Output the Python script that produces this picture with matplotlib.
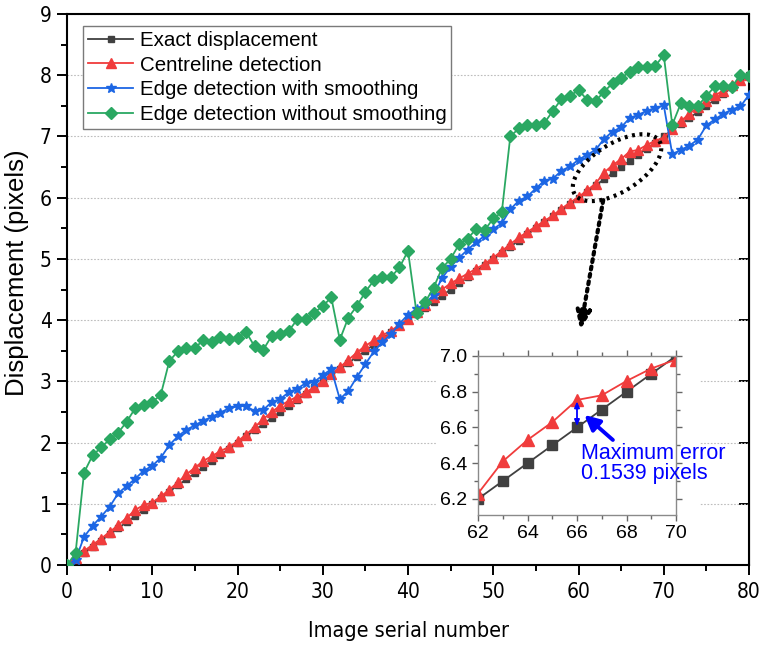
import numpy as np
import matplotlib
matplotlib.use("Agg")
import matplotlib.pyplot as plt
from matplotlib import font_manager
from matplotlib.font_manager import FontProperties
from matplotlib.patches import Rectangle
from matplotlib.ticker import MultipleLocator

# ---------------- data ----------------
image_no = list(range(0, 81))

exact = [0.0, 0.1, 0.2, 0.3, 0.4, 0.5, 0.6, 0.7, 0.8, 0.9,
         1.0, 1.1, 1.2, 1.3, 1.4, 1.5, 1.6, 1.7, 1.8, 1.9,
         2.0, 2.1, 2.2, 2.3, 2.4, 2.5, 2.6, 2.7, 2.8, 2.9,
         3.0, 3.1, 3.2, 3.3, 3.4, 3.5, 3.6, 3.7, 3.8, 3.9,
         4.0, 4.1, 4.2, 4.3, 4.4, 4.5, 4.6, 4.7, 4.8, 4.9,
         5.0, 5.1, 5.2, 5.3, 5.4, 5.5, 5.6, 5.7, 5.8, 5.9,
         6.0, 6.1, 6.2, 6.3, 6.4, 6.5, 6.6, 6.7, 6.8, 6.9,
         7.0, 7.1, 7.2, 7.3, 7.4, 7.5, 7.6, 7.7, 7.8, 7.9, 8.0]

centreline = [0.00, 0.12, 0.23, 0.33, 0.43, 0.54, 0.65, 0.77, 0.90, 0.98,
              1.02, 1.12, 1.23, 1.35, 1.48, 1.59, 1.70, 1.78, 1.86, 1.93,
              2.02, 2.13, 2.25, 2.38, 2.50, 2.60, 2.68, 2.75, 2.82, 2.90,
              3.00, 3.12, 3.23, 3.35, 3.47, 3.58, 3.67, 3.75, 3.83, 3.92,
              4.02, 4.13, 4.25, 4.37, 4.50, 4.60, 4.68, 4.76, 4.84, 4.92,
              5.02, 5.13, 5.24, 5.35, 5.44, 5.53, 5.62, 5.71, 5.82, 5.92,
              6.01, 6.12, 6.23, 6.41, 6.53, 6.63, 6.754, 6.78, 6.86, 6.93,
              6.98, 7.12, 7.25, 7.37, 7.48, 7.58, 7.67, 7.75, 7.84, 7.93, 8.00]

edge_smooth = [0.00, 0.08, 0.46, 0.64, 0.79, 0.95, 1.17, 1.29, 1.41, 1.54,
               1.62, 1.75, 1.96, 2.10, 2.21, 2.28, 2.36, 2.42, 2.49, 2.56,
               2.59, 2.60, 2.51, 2.53, 2.66, 2.71, 2.82, 2.88, 2.97, 2.99,
               3.10, 3.20, 2.71, 2.84, 3.07, 3.28, 3.49, 3.64, 3.77, 3.94,
               4.09, 4.18, 4.27, 4.41, 4.69, 4.87, 5.02, 5.15, 5.27, 5.38,
               5.49, 5.58, 5.81, 5.95, 6.02, 6.15, 6.28, 6.31, 6.44, 6.51,
               6.62, 6.70, 6.78, 6.96, 7.08, 7.15, 7.30, 7.35, 7.42, 7.46,
               7.51, 6.71, 6.78, 6.85, 6.95, 7.18, 7.28, 7.37, 7.44, 7.49, 7.68]

edge_raw = [0.00, 0.19, 1.51, 1.79, 1.92, 2.05, 2.16, 2.34, 2.56, 2.61,
            2.66, 2.78, 3.33, 3.49, 3.54, 3.55, 3.67, 3.65, 3.73, 3.69,
            3.70, 3.81, 3.57, 3.51, 3.74, 3.78, 3.82, 4.01, 4.01, 4.12,
            4.23, 4.37, 3.68, 4.04, 4.23, 4.46, 4.65, 4.71, 4.70, 4.86,
            5.13, 4.12, 4.29, 4.53, 4.85, 5.00, 5.24, 5.33, 5.49, 5.47,
            5.66, 5.76, 7.00, 7.13, 7.18, 7.18, 7.22, 7.42, 7.61, 7.66,
            7.76, 7.60, 7.58, 7.73, 7.87, 7.95, 8.06, 8.14, 8.13, 8.15,
            8.33, 7.19, 7.54, 7.50, 7.50, 7.66, 7.82, 7.82, 7.81, 8.01, 7.98]

labels = ["Exact displacement", "Centreline detection",
          "Edge detection with smoothing", "Edge detection without smoothing"]

inset_lo, inset_hi = 62, 70
max_err_x = 66

# ---------------- fonts ----------------
regular = "Liberation Sans"
plt.rcParams["font.family"] = [regular, "DejaVu Sans"]


def narrow_props(size):
    """Condensed sans face if one is installed, else the regular face."""
    cands = []
    for f in font_manager.fontManager.ttflist:
        fn = f.fname.lower()
        if ("narrow" in fn or "condensed" in fn) and "bold" not in fn \
                and "oblique" not in fn and "italic" not in fn:
            cands.append(f.fname)
    cands.sort(key=lambda p: (0 if "liberation" in p.lower() else
                              1 if "dejavusans" in p.lower() else 2))
    if cands:
        return FontProperties(fname=cands[0], size=size)
    return FontProperties(family=regular, size=size)


C_BLACK = "#404040"
C_RED = "#f03c3c"
C_BLUE = "#1c66e4"
C_GREEN = "#2aa862"

fig = plt.figure(figsize=(7.62, 6.51), dpi=100)
W, H = 762, 651
def fx(px): return px / W
def fy(py): return 1 - py / H

ax = fig.add_axes([fx(67), fy(565), fx(749) - fx(67), (565 - 14) / H])
ax.set_zorder(0)

ax.plot(image_no, exact, color=C_BLACK, lw=1.3, marker="s", ms=5,
        mfc=C_BLACK, mec=C_BLACK, label=labels[0], zorder=3)
ax.plot(image_no, centreline, color=C_RED, lw=1.3, marker="^", ms=6.5,
        mfc=C_RED, mec=C_RED, label=labels[1], zorder=4)
ax.plot(image_no, edge_smooth, color=C_BLUE, lw=1.3, marker="*", ms=7.5,
        mfc=C_BLUE, mec=C_BLUE, label=labels[2], zorder=5)
ax.plot(image_no, edge_raw, color=C_GREEN, lw=1.3, marker="D", ms=5.8,
        mfc=C_GREEN, mec=C_GREEN, label=labels[3], zorder=6)

ax.set_xlim(0, 80)
ax.set_ylim(0, 9)
ax.xaxis.set_major_locator(MultipleLocator(10))
ax.xaxis.set_minor_locator(MultipleLocator(5))
ax.yaxis.set_major_locator(MultipleLocator(1))
ax.yaxis.set_minor_locator(MultipleLocator(0.5))
ax.tick_params(which="major", direction="out", length=7, width=1.4,
               top=False, right=False)
ax.tick_params(which="minor", direction="out", length=4, width=1.4,
               top=False, right=False)
ax.tick_params(axis="x", pad=5)
ax.tick_params(axis="y", pad=4)
tick_fp = narrow_props(15)
for lab in ax.get_xticklabels() + ax.get_yticklabels():
    lab.set_fontproperties(tick_fp)
for s in ax.spines.values():
    s.set_linewidth(1.5)
ax.yaxis.grid(True, which="major", linestyle=(0, (1.5, 1.5)), color="#bdbdbd", lw=0.8)
ax.set_axisbelow(True)

# right inward ticks
ax_r = ax.secondary_yaxis("right")
ax_r.yaxis.set_major_locator(MultipleLocator(1))
ax_r.tick_params(direction="in", length=7, width=1.4, labelright=False)

ax.set_xlabel("Image serial number", fontproperties=narrow_props(15.5), labelpad=14)
ax.set_ylabel("Displacement (pixels)", fontsize=18.5)
ax.yaxis.set_label_coords(-0.056, 0.53)

leg = ax.legend(loc="upper left", bbox_to_anchor=((83 - 67) / 682, (565 - 26) / 551),
                borderaxespad=0, fontsize=14.8, frameon=True, fancybox=False,
                handlelength=2.2, labelspacing=0.27, borderpad=0.25,
                handletextpad=0.3, framealpha=1)
leg.get_frame().set_edgecolor("#7a7a7a")
leg.get_frame().set_linewidth(1.0)

# dotted ellipse around the zoomed region
t = np.linspace(0, 2 * np.pi, 240)
cx, cy = 64.52, 6.49
ux, uy = 4.97, 0.433
vx, vy = 1.49, -0.333
ax.plot(cx + ux * np.cos(t) + vx * np.sin(t), cy + uy * np.cos(t) + vy * np.sin(t),
        color="black", lw=3.0, linestyle=(0, (0.7, 1.1)), zorder=7)
ax.annotate("", xy=(60.2, 3.84), xytext=(62.9, 5.96),
            arrowprops=dict(arrowstyle="-|>,head_length=1.1,head_width=0.45",
                            color="black", lw=3.0, linestyle=(0, (0.7, 1.1)),
                            shrinkA=0, shrinkB=0),
            zorder=7)

# white background behind inset
fig.add_artist(Rectangle((fx(437), fy(548)), fx(700) - fx(437), (548 - 345) / H,
                         transform=fig.transFigure, facecolor="white",
                         edgecolor="none", zorder=1))

# ---------------- inset ----------------
axi = fig.add_axes([fx(478), fy(515), fx(676) - fx(478), (515 - 356) / H])
axi.set_zorder(2)
sel = slice(inset_lo, inset_hi + 1)
axi.plot(image_no[sel], exact[sel], color=C_BLACK, lw=1.3, marker="s", ms=7,
         mfc=C_BLACK, mec=C_BLACK)
axi.plot(image_no[sel], centreline[sel], color=C_RED, lw=1.3, marker="^", ms=9,
         mfc=C_RED, mec=C_RED)
axi.set_xlim(inset_lo, inset_hi)
axi.set_ylim(6.11, 7.0)
axi.xaxis.set_major_locator(MultipleLocator(2))
axi.xaxis.set_minor_locator(MultipleLocator(1))
axi.yaxis.set_minor_locator(MultipleLocator(0.1))
axi.set_yticks([6.2, 6.4, 6.6, 6.8, 7.0])
axi.set_yticklabels(["6.2", "6.4", "6.6", "6.8", "7.0"])
axi.tick_params(which="both", direction="out", labelsize=14, width=1.0,
                color="#666666")
axi.tick_params(which="major", length=4)
axi.tick_params(which="minor", length=3)
axi.tick_params(axis="x", which="both", top=True)
axi.tick_params(axis="y", which="both", right=True)
for s in axi.spines.values():
    s.set_linewidth(1.0)
    s.set_color("#8a8a8a")

# maximum error marker
axi.annotate("", xy=(max_err_x, centreline[max_err_x]), xytext=(max_err_x, exact[max_err_x]),
             arrowprops=dict(arrowstyle="<|-|>,head_length=0.35,head_width=0.15",
                             color="blue", lw=1.3, shrinkA=1, shrinkB=1))
axi.annotate("", xy=(66.3, 6.67), xytext=(67.45, 6.53),
             arrowprops=dict(arrowstyle="-|>,head_length=0.9,head_width=0.45",
                             color="blue", lw=2.8, shrinkA=0, shrinkB=0))
axi.text(66.15, 6.515, "Maximum error\n0.1539 pixels", color="blue",
         fontsize=15.5, ha="left", va="top", linespacing=0.95)

fig.savefig("out.png", dpi=100)
